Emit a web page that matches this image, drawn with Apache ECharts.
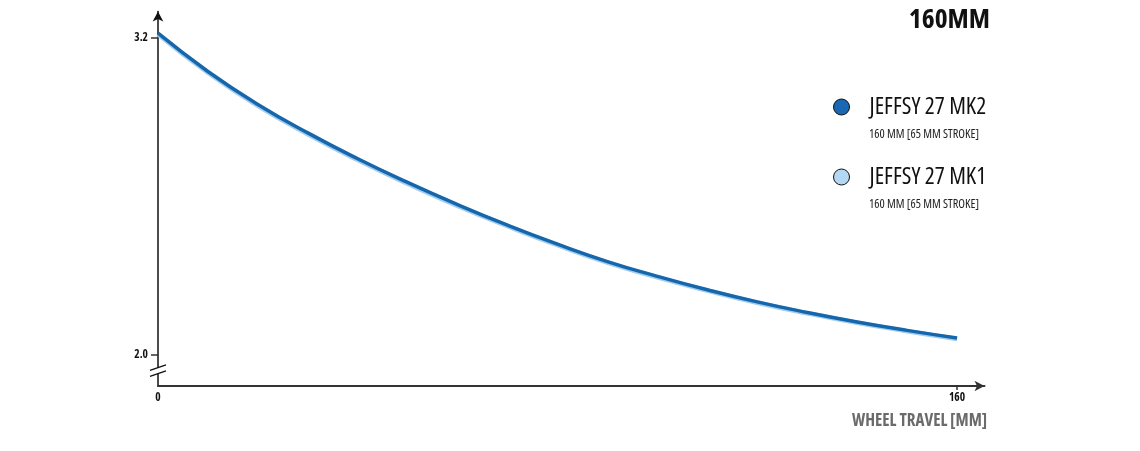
<!DOCTYPE html>
<html>
<head>
<meta charset="utf-8">
<script src="https://cdn.jsdelivr.net/npm/echarts@6/dist/echarts.min.js"></script>
<style>html,body{margin:0;padding:0;background:#fff;}#c{width:1140px;height:451px;}</style>
</head>
<body>
<div id="c"></div>
<script>
var travel = [0, 10, 20, 30, 40, 50, 60, 70, 80, 90, 100, 110, 120, 130, 140, 150, 160];
var mk2 = [3.218, 3.073, 2.948, 2.840, 2.742, 2.652, 2.568, 2.490, 2.418, 2.352, 2.296, 2.245, 2.199, 2.159, 2.123, 2.091, 2.062];
var mk1 = [3.214, 3.068, 2.943, 2.835, 2.737, 2.647, 2.563, 2.486, 2.414, 2.348, 2.292, 2.242, 2.196, 2.156, 2.120, 2.088, 2.058];
var yTickLabels = [2.0, 3.2];
var xTickLabels = [0, 160];
var seriesNames = ['JEFFSY 27 MK2', 'JEFFSY 27 MK1'];
var subtitle = '160 MM [65 MM STROKE]';
var title = '160MM';
var xName = 'WHEEL TRAVEL [MM]';

var FAM = '"Open Sans", sans-serif';
var chart = echarts.init(document.getElementById('c'));

function pairs(xs, ys) { return xs.map(function (x, i) { return [x, ys[i]]; }); }

var option = {
  animation: false,
  backgroundColor: '#fff',
  grid: { left: 158, right: 155.5, top: 11.6, bottom: 65, containLabel: false },
  xAxis: {
    type: 'value', min: 0, max: 165.5,
    splitLine: { show: false },
    axisLine: { show: true, symbol: ['none', 'arrow'], symbolSize: [8, 10], lineStyle: { color: '#333', width: 2 } },
    axisTick: { show: true, customValues: [160], length: 4, lineStyle: { color: '#333', width: 1.5 } },
    axisLabel: { customValues: xTickLabels, margin: 6, fontFamily: FAM, fontStyle: 'condensed', fontWeight: 'bold', fontSize: 11.5, color: '#111' }
  },
  yAxis: {
    type: 'value', min: 1.88, max: 3.3,
    splitLine: { show: false },
    axisLine: { show: true, symbol: ['none', 'arrow'], symbolSize: [8, 10], lineStyle: { color: '#111', width: 1.5 } },
    axisTick: { show: true, customValues: yTickLabels, length: 7, lineStyle: { color: '#333', width: 1.5 } },
    axisLabel: { customValues: yTickLabels, margin: 10, fontFamily: FAM, fontStyle: 'condensed', fontWeight: 'bold', fontSize: 11.5, color: '#111',
      formatter: function (v) { return v.toFixed(1); } }
  },
  legend: {
    orient: 'vertical', left: 833, top: 91, padding: 0,
    itemWidth: 16, itemHeight: 16, itemGap: 38,
    icon: 'circle',
    data: [
      { name: seriesNames[0], itemStyle: { color: '#1a68b4', borderColor: '#111', borderWidth: 1 } },
      { name: seriesNames[1], itemStyle: { color: '#b3d8f3', borderColor: '#111', borderWidth: 1 } }
    ],
    textStyle: { fontFamily: FAM, fontStyle: 'condensed', fontSize: 23.5, color: '#111', padding: [8, 0, 0, 15], lineHeight: 24 }
  },
  series: [
    { name: seriesNames[1], type: 'line', smooth: true, showSymbol: false, z: 2,
      data: pairs(travel, mk1), itemStyle: { color: '#b3d8f3' }, lineStyle: { color: '#9fccef', width: 4.5 } },
    { name: seriesNames[0], type: 'line', smooth: true, showSymbol: false, z: 3,
      data: pairs(travel, mk2), itemStyle: { color: '#1a68b4' }, lineStyle: { color: '#1666ac', width: 3.5 } }
  ]
};
chart.setOption(option);

var ax = chart.convertToPixel({ gridIndex: 0 }, [0, 1.937]);
var bx = ax[0], by = ax[1];
chart.setOption({
  graphic: [
    { type: 'rect', shape: { x: bx - 3, y: by - 3, width: 6, height: 6 }, style: { fill: '#fff' }, z: 100 },
    { type: 'line', shape: { x1: bx - 8, y1: by - 0.5, x2: bx + 8, y2: by - 6 }, style: { stroke: '#111', lineWidth: 1.3 }, z: 101 },
    { type: 'line', shape: { x1: bx - 8, y1: by + 5.5, x2: bx + 8, y2: by }, style: { stroke: '#111', lineWidth: 1.3 }, z: 101 },
    { type: 'text', right: 150, top: 6, style: { text: title, font: 'condensed bold 27.5px "Open Sans"', fill: '#111' } },
    { type: 'text', left: 869, top: 128, style: { text: subtitle, font: 'condensed 12.3px "Open Sans"', fill: '#222' } },
    { type: 'text', left: 869, top: 198, style: { text: subtitle, font: 'condensed 12.3px "Open Sans"', fill: '#222' } },
    { type: 'text', right: 153, top: 413, style: { text: xName, font: 'condensed bold 17px "Open Sans"', fill: '#6b6b6b' } }
  ]
});
</script>
</body>
</html>
